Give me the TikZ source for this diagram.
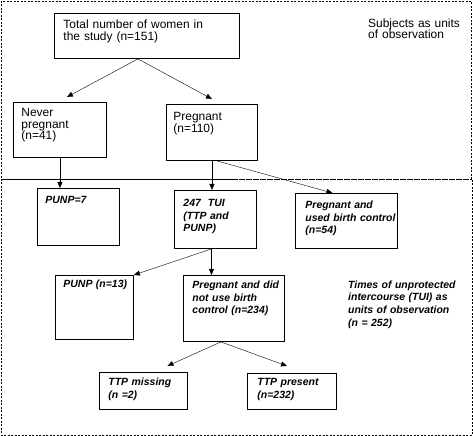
\documentclass[tikz,border=0pt]{standalone}
\usepackage{fontspec}
\setmainfont{Liberation Sans}
\usetikzlibrary{calc,arrows.meta}
\newcommand{\upfont}{\fontsize{12}{11.6}\selectfont}
\newcommand{\lofont}{\fontsize{10.5}{12.8}\selectfont\bfseries\itshape\hyphenpenalty=10000}
\begin{document}
\begin{tikzpicture}[x=1bp,y=-1bp]
\tikzstyle{box}=[draw,line width=0.9bp,anchor=north west,align=left,inner ysep=0pt]
\tikzstyle{lab}=[anchor=north west,align=left,inner sep=0pt]
\tikzstyle{frame}=[line width=0.8bp,dash pattern=on 2bp off 1.5bp]
\tikzstyle{every path}=[>={Triangle[length=6bp,width=5bp]}]
\useasboundingbox (0,0) rectangle (473,436);
% dashed frames
\draw[frame] (1,1) rectangle (471,179);
\draw[frame] (1,179) rectangle (472,435);
% subjects as units
\node[box,font=\upfont,inner xsep=9bp,text width=167bp,text height=15bp,text depth=30bp](s0) at (54,13) {Total number of women in\\the study (n=151)};
\node[box,font=\upfont,inner xsep=8bp,text width=77bp,text height=14bp,text depth=41bp](s1) at (13,102) {Never\\pregnant\\(n=41)};
\node[box,font=\upfont,inner xsep=7bp,text width=77bp,text height=16bp,text depth=40bp](s2) at (166,104) {Pregnant\\(n=110)};
\node[lab,font=\upfont,text width=100bp,text height=9bp](lab1) at (368,18) {Subjects as units\\of observation};
% TUI as units
\node[box,font=\lofont,inner xsep=8bp,text width=66bp,text height=15bp,text depth=42bp](u1) at (37,188) {PUNP=7};
\node[box,font=\lofont,inner xsep=9bp,text width=64bp,text height=16bp,text depth=42bp](u2) at (174,190) {247\ \ TUI\\(TTP and\\PUNP)};
\node[box,font=\lofont,inner xsep=10bp,text width=82bp,text height=15bp,text depth=40bp](u3) at (295,193) {Pregnant and\\\mbox{used birth control}\\(n=54)};
\node[box,font=\lofont,inner xsep=8bp,text width=62bp,text height=12bp,text depth=52bp](u4) at (55,275) {\mbox{PUNP (n=13)}};
\node[box,font=\lofont,inner xsep=9bp,text width=83bp,text height=13bp,text depth=53bp](u5) at (183,275) {\mbox{Pregnant and did}\\not use birth\\control (n=234)};
\node[lab,font=\lofont,text width=120bp,text height=8bp](lab2) at (348,280) {Times of unprotected\\intercourse (TUI) as\\units of observation\\(n = 252)};
\node[box,font=\lofont,inner xsep=9bp,text width=70bp,text height=13bp,text depth=24bp](u6) at (99,372) {TTP missing\\(n =2)};
\node[box,font=\lofont,inner xsep=10bp,text width=69bp,text height=12bp,text depth=24bp](u7) at (247,373) {TTP present\\(n=232)};
\coordinate (c1) at ($(u2.south)+(-4,0)$);
\coordinate (c2) at ($(u5.south)+(-13,0)$);
\draw[->] ($(s0.south)+(-9,0)$) -- ($(s1.north)+(7,-5)$);
\draw[->] ($(s0.south)+(-9,0)$) -- ($(s2.north)+(0,-5)$);
\draw[->] (s1.south) -- (s1.south |- u1.north);
\draw[->] (s2.south) -- (s2.south |- u2.north);
\draw[->] ($(s2.south)+(5,0)$) -- ($(u3.north)+(-14,0)$);
\draw[->] (c1) -- (u4.north east);
\draw[->] (c1) -- (c1 |- u5.north);
\draw[->] (c2) -- ($(u6.north)+(24,-6)$);
\draw[->] (c2) -- ($(u7.north)+(-5,-7)$);
\end{tikzpicture}
\end{document}
